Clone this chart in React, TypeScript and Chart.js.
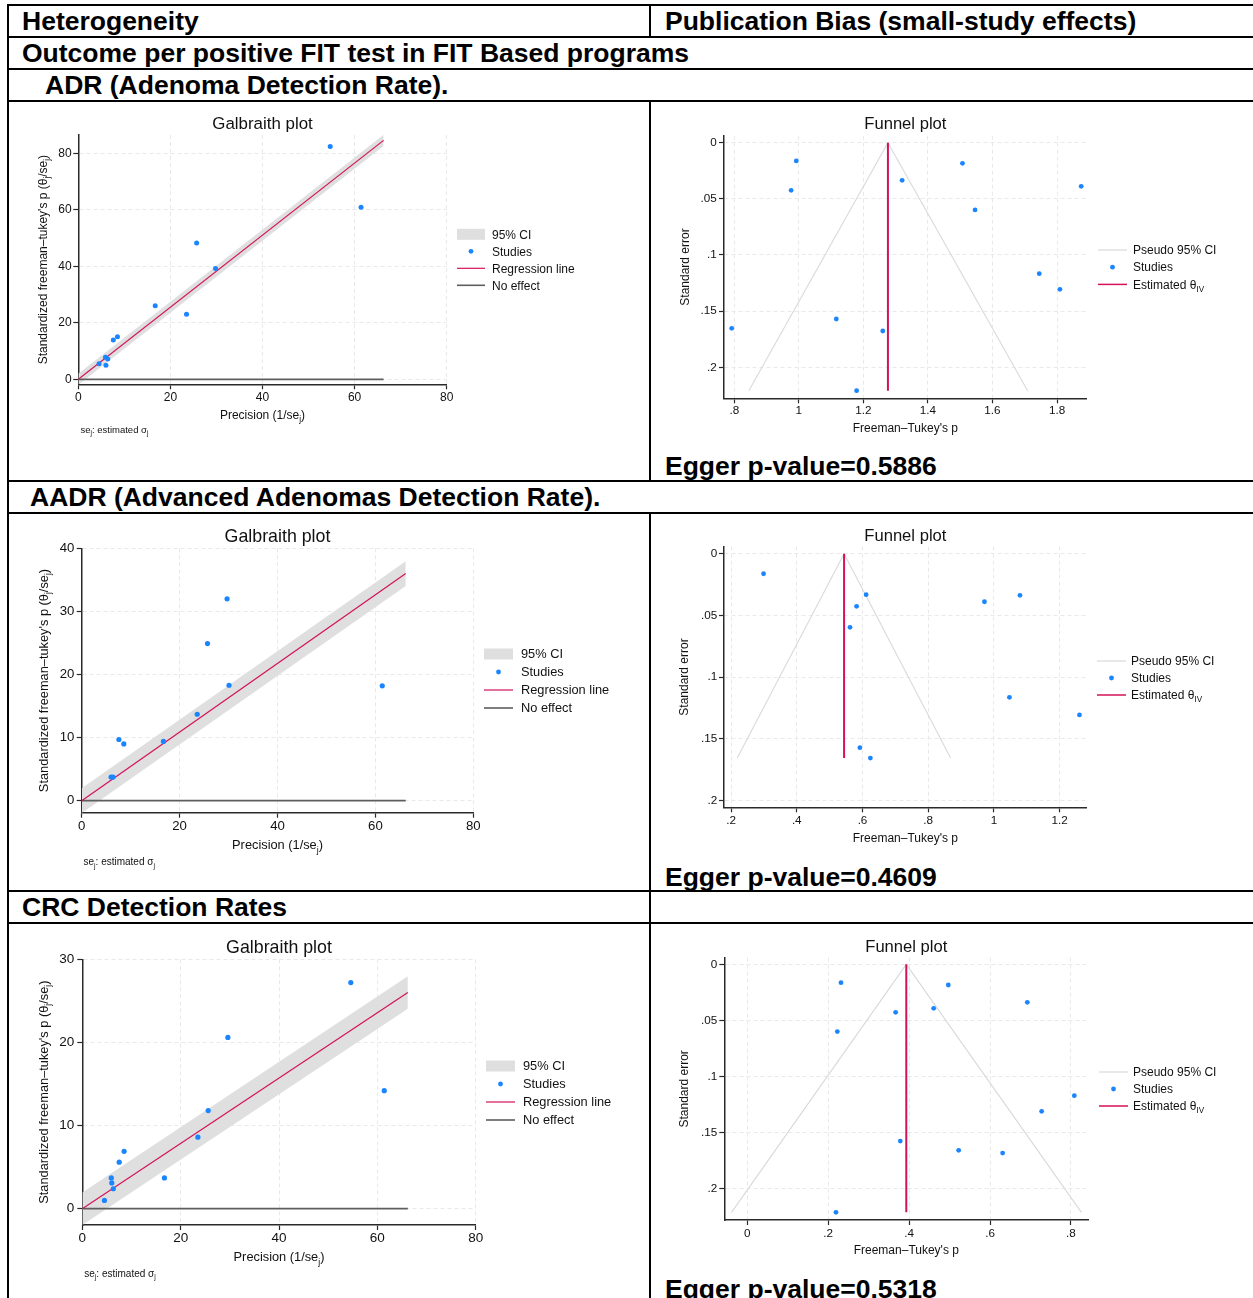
import React, { useEffect, useRef } from 'react';
import { Chart, registerables } from 'chart.js';

Chart.register(...registerables);

const FONT = '"Liberation Sans", Arial, Helvetica, sans-serif';
Chart.defaults.font.family = FONT;

// ================= DATA =================
// --- ADR (Adenoma Detection Rate) ---
const ADR_GAL_PRECISION = [54.7, 61.4, 25.7, 29.8, 16.7, 23.5, 8.5, 7.6, 5.9, 6.4, 4.5, 6.0];
const ADR_GAL_STANDARDIZED = [82.4, 60.9, 48.3, 39.2, 26.0, 23.0, 15.1, 13.9, 7.8, 7.2, 5.5, 5.0];
const ADR_GAL_LINE_X = [0, 66.3];
const ADR_GAL_LINE_Y = [0, 84.6];
const ADR_GAL_CI_LOW = [-1.96, 82.64];
const ADR_GAL_CI_HIGH = [1.96, 86.56];
const ADR_FUN_P = [0.992, 0.976, 1.507, 1.32, 1.875, 1.546, 1.745, 1.809, 0.792, 1.116, 1.26, 1.179];
const ADR_FUN_SE = [0.0163, 0.0424, 0.0184, 0.0335, 0.0389, 0.0599, 0.1166, 0.1306, 0.1653, 0.157, 0.1677, 0.2208];
const ADR_THETA_IV = 1.276;
const ADR_FUN_SE_MAX = 0.2208;
const ADR_PSEUDO_CI_BOTTOM = [0.845, 1.709];

// --- AADR (Advanced Adenomas Detection Rate) ---
const AADR_GAL_PRECISION = [29.7, 25.7, 30.1, 61.4, 23.6, 16.7, 7.6, 8.6, 6.0, 6.4];
const AADR_GAL_STANDARDIZED = [32.0, 24.9, 18.3, 18.2, 13.7, 9.4, 9.7, 9.0, 3.75, 3.75];
const AADR_GAL_LINE_X = [0, 66.2];
const AADR_GAL_LINE_Y = [0, 36.0];
const AADR_GAL_CI_LOW = [-1.96, 34.04];
const AADR_GAL_CI_HIGH = [1.96, 37.96];
const AADR_FUN_P = [0.299, 0.611, 0.582, 0.562, 0.971, 1.079, 1.047, 1.26, 0.592, 0.624];
const AADR_FUN_SE = [0.0162, 0.0332, 0.0426, 0.0596, 0.0389, 0.0337, 0.1163, 0.1306, 0.1571, 0.1655];
const AADR_THETA_IV = 0.544;
const AADR_FUN_SE_MAX = 0.1655;
const AADR_PSEUDO_CI_BOTTOM = [0.219, 0.868];

// --- CRC Detection Rates ---
const CRC_GAL_PRECISION = [54.6, 61.4, 29.6, 25.6, 23.5, 16.7, 8.5, 7.5, 5.9, 6.0, 6.3, 4.5];
const CRC_GAL_STANDARDIZED = [27.2, 14.2, 20.6, 11.8, 8.6, 3.7, 6.9, 5.6, 3.7, 3.1, 2.4, 1.0];
const CRC_GAL_LINE_X = [0, 66.2];
const CRC_GAL_LINE_Y = [0, 26.0];
const CRC_GAL_CI_LOW = [-1.96, 24.04];
const CRC_GAL_CI_HIGH = [1.96, 27.96];
const CRC_FUN_P = [0.2316, 0.4969, 0.6922, 0.4607, 0.3667, 0.2225, 0.8084, 0.7277, 0.3782, 0.5225, 0.6312, 0.2192];
const CRC_FUN_SE = [0.0163, 0.0184, 0.0338, 0.0392, 0.0427, 0.0599, 0.1169, 0.1309, 0.1573, 0.1656, 0.168, 0.2208];
const CRC_THETA_IV = 0.393;
const CRC_FUN_SE_MAX = 0.2208;
const CRC_PSEUDO_CI_BOTTOM = [-0.039, 0.826];

const NO_EFFECT_Y = [0, 0];

// --- ticks ---
const GAL_X_TICKS = [0, 20, 40, 60, 80];
const ADR_GAL_Y_TICKS = [0, 20, 40, 60, 80];
const AADR_GAL_Y_TICKS = [0, 10, 20, 30, 40];
const CRC_GAL_Y_TICKS = [0, 10, 20, 30];
const ADR_FUN_X_TICKS = [0.8, 1, 1.2, 1.4, 1.6, 1.8];
const AADR_FUN_X_TICKS = [0.2, 0.4, 0.6, 0.8, 1, 1.2];
const CRC_FUN_X_TICKS = [0, 0.2, 0.4, 0.6, 0.8];
const FUN_Y_TICKS = [0, 0.05, 0.1, 0.15, 0.2];

// --- texts ---
const HEAD_LEFT = 'Heterogeneity';
const HEAD_RIGHT = 'Publication Bias (small-study effects)';
const HEAD_OUTCOME = 'Outcome per positive FIT test in FIT Based programs';
const HEAD_ADR = 'ADR (Adenoma Detection Rate).';
const HEAD_AADR = 'AADR (Advanced Adenomas Detection Rate).';
const HEAD_CRC = 'CRC Detection Rates';
const EGGER_P = ['0.5886', '0.4609', '0.5318'];

// ================= STYLE =================
const BLUE = '#1a85ff';
const RED = '#d41159';
const BAND = '#dfdfdf';
const NOEFFECT = '#5e5e5e';
const PSEUDO = '#d9d9d9';
const AXIS = '#2a2a2a';
const GRID = '#e9e9e9';
const TXT = '#111111';

type Seg = [string, boolean?];

const GAL_Y_TITLE: Seg[] = [["Standardized freeman\u2013tukey's p (\u03B8"], ['j', true], ['/se'], ['j', true], [')']];
const GAL_X_TITLE: Seg[] = [['Precision (1/se'], ['j', true], [')']];
const GAL_NOTE: Seg[] = [['se'], ['j', true], [': estimated \u03C3'], ['j', true]];
const FUN_Y_TITLE: Seg[] = [['Standard error']];
const FUN_X_TITLE: Seg[] = [["Freeman\u2013Tukey's p"]];

const GAL_LEGEND = [
  { key: 'band', label: [['95% CI']] as Seg[] },
  { key: 'dot', label: [['Studies']] as Seg[] },
  { key: 'line', color: RED, width: 1.2, label: [['Regression line']] as Seg[] },
  { key: 'line', color: NOEFFECT, width: 1.6, label: [['No effect']] as Seg[] },
];
const FUN_LEGEND = [
  { key: 'line', color: PSEUDO, width: 1.2, label: [['Pseudo 95% CI']] as Seg[] },
  { key: 'dot', label: [['Studies']] as Seg[] },
  { key: 'line', color: RED, width: 1.5, label: [['Estimated \u03B8'], ['IV', true]] as Seg[] },
];

function fmtStata(v: number) {
  if (v === 0) return '0';
  let s = String(parseFloat(Number(v).toFixed(4)));
  s = s.replace(/^0\./, '.').replace(/^-0\./, '-.');
  return s;
}

function segFont(size: number, sub?: boolean) {
  return `${sub ? size * 0.68 : size}px ${FONT}`;
}

function richWidth(ctx: CanvasRenderingContext2D, segs: Seg[], size: number) {
  let w = 0;
  for (const [t, sub] of segs) {
    ctx.font = segFont(size, sub);
    w += ctx.measureText(t).width;
  }
  return w;
}

// y = visual centre line
function drawRich(ctx: CanvasRenderingContext2D, segs: Seg[], x: number, y: number, size: number, align: 'left' | 'center') {
  const w = richWidth(ctx, segs, size);
  let cx = align === 'center' ? x - w / 2 : x;
  const base = y + size * 0.35;
  ctx.fillStyle = TXT;
  ctx.textBaseline = 'alphabetic';
  ctx.textAlign = 'left';
  for (const [t, sub] of segs) {
    ctx.font = segFont(size, sub);
    ctx.fillText(t, cx, sub ? base + size * 0.27 : base);
    cx += ctx.measureText(t).width;
  }
}

const pts = (xs: number[], ys: number[]) => xs.map((x, i) => ({ x, y: ys[i] }));

// ================= LAYOUT SPECS (page coordinates) =================
const Y_AXIS_W = 30;
const X_AXIS_H = 20;

const SPECS: any[] = [
  {
    id: 'g1', kind: 'gal',
    canvas: { x: 10, y: 103, w: 638, h: 376 },
    plot: { l: 78.3, t: 135, r: 446.7, b: 384.3 },
    xr: [0, 80], yr: [-1.77, 86.5], xt: GAL_X_TICKS, yt: ADR_GAL_Y_TICKS,
    px: ADR_GAL_PRECISION, py: ADR_GAL_STANDARDIZED,
    lx: ADR_GAL_LINE_X, ly: ADR_GAL_LINE_Y, lo: ADR_GAL_CI_LOW, hi: ADR_GAL_CI_HIGH,
    titleY: 123.5, titleSize: 16.9, yTitleX: 42.3, xTitleY: 414.3, axisTitleSize: 12,
    note: { x: 80.5, y: 429.5, size: 9.5 },
    tickSize: 12, padX: 1.2, padY: 1.6, dot: 2.5,
    legend: { keyX: 457, textX: 492, keyW: 28, y0: 234.3, dy: 17, size: 12 },
  },
  {
    id: 'f1', kind: 'fun',
    canvas: { x: 652, y: 103, w: 601, h: 340 },
    plot: { l: 724, t: 135.7, r: 1086.7, b: 398.3 },
    xr: [0.768, 1.892], yr: [-0.0062, 0.2276], xt: ADR_FUN_X_TICKS, yt: FUN_Y_TICKS,
    px: ADR_FUN_P, py: ADR_FUN_SE, theta: ADR_THETA_IV, seMax: ADR_FUN_SE_MAX, bottom: ADR_PSEUDO_CI_BOTTOM,
    titleY: 123.3, titleSize: 16.6, yTitleX: 684.3, xTitleY: 427.7, axisTitleSize: 12,
    tickSize: 11.7, padX: 0.5, padY: 2.3, dot: 2.4,
    legend: { keyX: 1098, textX: 1133, keyW: 29, y0: 250, dy: 17.2, size: 12 },
  },
  {
    id: 'g2', kind: 'gal',
    canvas: { x: 10, y: 515, w: 638, h: 374 },
    plot: { l: 81.7, t: 548.3, r: 473.3, b: 812.7 },
    xr: [0, 80], yr: [-1.9, 40], xt: GAL_X_TICKS, yt: AADR_GAL_Y_TICKS,
    px: AADR_GAL_PRECISION, py: AADR_GAL_STANDARDIZED,
    lx: AADR_GAL_LINE_X, ly: AADR_GAL_LINE_Y, lo: AADR_GAL_CI_LOW, hi: AADR_GAL_CI_HIGH,
    titleY: 536, titleSize: 17.8, yTitleX: 43.3, xTitleY: 845, axisTitleSize: 12.8,
    note: { x: 83.5, y: 861.5, size: 10 },
    tickSize: 13.2, padX: 1.1, padY: 2.4, dot: 2.6,
    legend: { keyX: 484, textX: 521, keyW: 29, y0: 654, dy: 18, size: 12.8 },
  },
  {
    id: 'f2', kind: 'fun',
    canvas: { x: 652, y: 515, w: 601, h: 335 },
    plot: { l: 724, t: 546.7, r: 1086.7, b: 807.3 },
    xr: [0.1787, 1.282], yr: [-0.0057, 0.2054], xt: AADR_FUN_X_TICKS, yt: FUN_Y_TICKS,
    px: AADR_FUN_P, py: AADR_FUN_SE, theta: AADR_THETA_IV, seMax: AADR_FUN_SE_MAX, bottom: AADR_PSEUDO_CI_BOTTOM,
    titleY: 535, titleSize: 16.6, yTitleX: 684, xTitleY: 837.7, axisTitleSize: 12,
    tickSize: 11.7, padX: 1.5, padY: 1.7, dot: 2.4,
    legend: { keyX: 1097, textX: 1131, keyW: 29, y0: 661, dy: 17, size: 12 },
  },
  {
    id: 'g3', kind: 'gal',
    canvas: { x: 10, y: 925, w: 638, h: 373 },
    plot: { l: 82.3, t: 959.3, r: 475.7, b: 1225 },
    xr: [0, 80], yr: [-1.96, 30], xt: GAL_X_TICKS, yt: CRC_GAL_Y_TICKS,
    px: CRC_GAL_PRECISION, py: CRC_GAL_STANDARDIZED,
    lx: CRC_GAL_LINE_X, ly: CRC_GAL_LINE_Y, lo: CRC_GAL_CI_LOW, hi: CRC_GAL_CI_HIGH,
    titleY: 946.7, titleSize: 17.8, yTitleX: 43.3, xTitleY: 1256.7, axisTitleSize: 12.8,
    note: { x: 84.3, y: 1273, size: 10 },
    tickSize: 13.5, padX: 0.5, padY: 3, dot: 2.6,
    legend: { keyX: 486, textX: 523, keyW: 29, y0: 1066, dy: 18, size: 12.8 },
  },
  {
    id: 'f3', kind: 'fun',
    canvas: { x: 652, y: 925, w: 601, h: 340 },
    plot: { l: 724.3, t: 957.7, r: 1088.3, b: 1220 },
    xr: [-0.0569, 0.843], yr: [-0.0059, 0.2276], xt: CRC_FUN_X_TICKS, yt: FUN_Y_TICKS,
    px: CRC_FUN_P, py: CRC_FUN_SE, theta: CRC_THETA_IV, seMax: CRC_FUN_SE_MAX, bottom: CRC_PSEUDO_CI_BOTTOM,
    titleY: 945.7, titleSize: 16.6, yTitleX: 684, xTitleY: 1250, axisTitleSize: 12,
    tickSize: 11.7, padX: 1.5, padY: 2, dot: 2.4,
    legend: { keyX: 1099, textX: 1133, keyW: 29, y0: 1072, dy: 17, size: 12 },
  },
];

function makeAxis(min: number, max: number, ticks: number[], size: number, pad: number, isX: boolean, reverse: boolean) {
  return {
    type: 'linear',
    min,
    max,
    reverse,
    border: { display: true, color: AXIS, width: 1.5, dash: [4, 3] },
    grid: {
      display: true,
      color: GRID,
      lineWidth: 1,
      drawOnChartArea: true,
      drawTicks: true,
      tickLength: 5,
      tickColor: AXIS,
      tickWidth: 1.2,
    },
    ticks: {
      font: { family: FONT, size, lineHeight: 1.2 },
      color: TXT,
      padding: pad,
      autoSkip: false,
      maxRotation: 0,
      minRotation: 0,
      callback: (v: any) => fmtStata(Number(v)),
    },
    afterBuildTicks: (s: any) => {
      s.ticks = ticks.map((v) => ({ value: v }));
    },
    afterFit: (s: any) => {
      if (isX) s.height = X_AXIS_H;
      else s.width = Y_AXIS_W;
    },
  };
}

function makeDecor(spec: any) {
  return {
    id: 'decor_' + spec.id,
    afterDraw(chart: any) {
      const ctx: CanvasRenderingContext2D = chart.ctx;
      const ca = chart.chartArea;
      const ox = spec.canvas.x;
      const oy = spec.canvas.y;
      const midX = (ca.left + ca.right) / 2;
      const midY = (ca.top + ca.bottom) / 2;
      ctx.save();
      drawRich(ctx, [[spec.kind === 'gal' ? 'Galbraith plot' : 'Funnel plot']], midX, spec.titleY - oy, spec.titleSize, 'center');
      drawRich(ctx, spec.kind === 'gal' ? GAL_X_TITLE : FUN_X_TITLE, midX, spec.xTitleY - oy, spec.axisTitleSize, 'center');
      ctx.save();
      ctx.translate(spec.yTitleX - ox, midY);
      ctx.rotate(-Math.PI / 2);
      drawRich(ctx, spec.kind === 'gal' ? GAL_Y_TITLE : FUN_Y_TITLE, 0, 0, spec.axisTitleSize, 'center');
      ctx.restore();
      if (spec.note) drawRich(ctx, GAL_NOTE, spec.note.x - ox, spec.note.y - oy, spec.note.size, 'left');
      const lg = spec.legend;
      const items = spec.kind === 'gal' ? GAL_LEGEND : FUN_LEGEND;
      items.forEach((it: any, i: number) => {
        const cy = lg.y0 - oy + i * lg.dy;
        const kx = lg.keyX - ox;
        if (it.key === 'band') {
          ctx.fillStyle = BAND;
          ctx.fillRect(kx, cy - 5.5, lg.keyW, 11);
        } else if (it.key === 'dot') {
          ctx.fillStyle = BLUE;
          ctx.beginPath();
          ctx.arc(kx + lg.keyW / 2, cy, 2.4, 0, Math.PI * 2);
          ctx.fill();
        } else {
          ctx.strokeStyle = it.color;
          ctx.lineWidth = it.width;
          ctx.beginPath();
          ctx.moveTo(kx, cy);
          ctx.lineTo(kx + lg.keyW, cy);
          ctx.stroke();
        }
        drawRich(ctx, it.label, lg.textX - ox, cy, lg.size, 'left');
      });
      ctx.restore();
    },
  };
}

function buildConfig(spec: any) {
  const c = spec.canvas;
  const p = spec.plot;
  const padding = {
    left: p.l - c.x - Y_AXIS_W,
    right: c.x + c.w - p.r,
    top: p.t - c.y,
    bottom: c.y + c.h - p.b - X_AXIS_H,
  };
  const clear = 'rgba(0,0,0,0)';
  let datasets: any[];
  if (spec.kind === 'gal') {
    datasets = [
      { label: 'Studies', data: pts(spec.px, spec.py), showLine: false, pointRadius: spec.dot, pointBackgroundColor: BLUE, pointBorderWidth: 0, pointBorderColor: clear, order: 0 },
      { label: 'Regression line', data: pts(spec.lx, spec.ly), borderColor: RED, borderWidth: 1.2, pointRadius: 0, fill: false, order: 1 },
      { label: 'No effect', data: pts(spec.lx, NO_EFFECT_Y), borderColor: NOEFFECT, borderWidth: 1.7, pointRadius: 0, fill: false, order: 2 },
      { label: '95% CI', data: pts(spec.lx, spec.hi), borderColor: clear, borderWidth: 0, pointRadius: 0, fill: '+1', backgroundColor: BAND, order: 3 },
      { label: '95% CI low', data: pts(spec.lx, spec.lo), borderColor: clear, borderWidth: 0, pointRadius: 0, fill: false, order: 4 },
    ];
  } else {
    datasets = [
      { label: 'Studies', data: pts(spec.px, spec.py), showLine: false, pointRadius: spec.dot, pointBackgroundColor: BLUE, pointBorderWidth: 0, pointBorderColor: clear, order: 0 },
      { label: 'Estimated', data: [{ x: spec.theta, y: 0 }, { x: spec.theta, y: spec.seMax }], borderColor: RED, borderWidth: 2, pointRadius: 0, fill: false, order: 1 },
      { label: 'Pseudo L', data: [{ x: spec.theta, y: 0 }, { x: spec.bottom[0], y: spec.seMax }], borderColor: PSEUDO, borderWidth: 1.1, pointRadius: 0, fill: false, order: 2 },
      { label: 'Pseudo R', data: [{ x: spec.theta, y: 0 }, { x: spec.bottom[1], y: spec.seMax }], borderColor: PSEUDO, borderWidth: 1.1, pointRadius: 0, fill: false, order: 3 },
    ];
  }
  return {
    type: 'line',
    data: { datasets },
    options: {
      responsive: false,
      maintainAspectRatio: false,
      animation: false,
      events: [],
      devicePixelRatio: 1,
      layout: { padding },
      elements: { line: { tension: 0 } },
      plugins: {
        legend: { display: false },
        title: { display: false },
        tooltip: { enabled: false },
      },
      scales: {
        x: makeAxis(spec.xr[0], spec.xr[1], spec.xt, spec.tickSize, spec.padX, true, false),
        y: makeAxis(spec.yr[0], spec.yr[1], spec.yt, spec.tickSize, spec.padY, false, spec.kind === 'fun'),
      },
    },
    plugins: [makeDecor(spec)],
  } as any;
}

function PlotCanvas({ spec }: { spec: any }) {
  const ref = useRef<HTMLCanvasElement>(null);
  useEffect(() => {
    if (!ref.current) return;
    const chart = new Chart(ref.current, buildConfig(spec));
    return () => chart.destroy();
  }, [spec]);
  const c = spec.canvas;
  return (
    <canvas
      ref={ref}
      width={c.w}
      height={c.h}
      style={{ position: 'absolute', left: c.x, top: c.y, width: c.w, height: c.h }}
    />
  );
}

// table rules (layout)
const H_RULES = [5, 37, 69, 101, 481, 513, 891, 923];
const V_RULES = [
  { x: 8, y0: 4, y1: 1298 },
  { x: 650, y0: 4, y1: 38 },
  { x: 650, y0: 100, y1: 482 },
  { x: 650, y0: 512, y1: 1298 },
];

const HEADINGS = [
  { text: HEAD_LEFT, x: 22, y: 5 },
  { text: HEAD_RIGHT, x: 665, y: 5 },
  { text: HEAD_OUTCOME, x: 22, y: 37 },
  { text: HEAD_ADR, x: 45, y: 69 },
  { text: HEAD_AADR, x: 30, y: 481 },
  { text: HEAD_CRC, x: 22, y: 891 },
  { text: `Egger p-value=${EGGER_P[0]}`, x: 665, y: 450 },
  { text: `Egger p-value=${EGGER_P[1]}`, x: 665, y: 861 },
  { text: `Egger p-value=${EGGER_P[2]}`, x: 665, y: 1273 },
];

export default function App() {
  return (
    <div
      style={{
        position: 'absolute',
        left: 0,
        top: 0,
        width: 1253,
        height: 1298,
        overflow: 'hidden',
        background: '#ffffff',
        fontFamily: FONT,
      }}
    >
      {H_RULES.map((y, i) => (
        <div key={'h' + i} style={{ position: 'absolute', left: 8, top: y - 1, width: 1253 - 8, height: 2, background: '#000' }} />
      ))}
      {V_RULES.map((v, i) => (
        <div key={'v' + i} style={{ position: 'absolute', left: v.x - 1, top: v.y0, width: 2, height: v.y1 - v.y0, background: '#000' }} />
      ))}
      {HEADINGS.map((h, i) => (
        <div
          key={'t' + i}
          style={{
            position: 'absolute',
            left: h.x,
            top: h.y,
            height: 32,
            lineHeight: '32px',
            fontSize: 26.5,
            fontWeight: 'bold',
            color: '#000',
            whiteSpace: 'nowrap',
          }}
        >
          {h.text}
        </div>
      ))}
      {SPECS.map((s) => (
        <PlotCanvas key={s.id} spec={s} />
      ))}
    </div>
  );
}
